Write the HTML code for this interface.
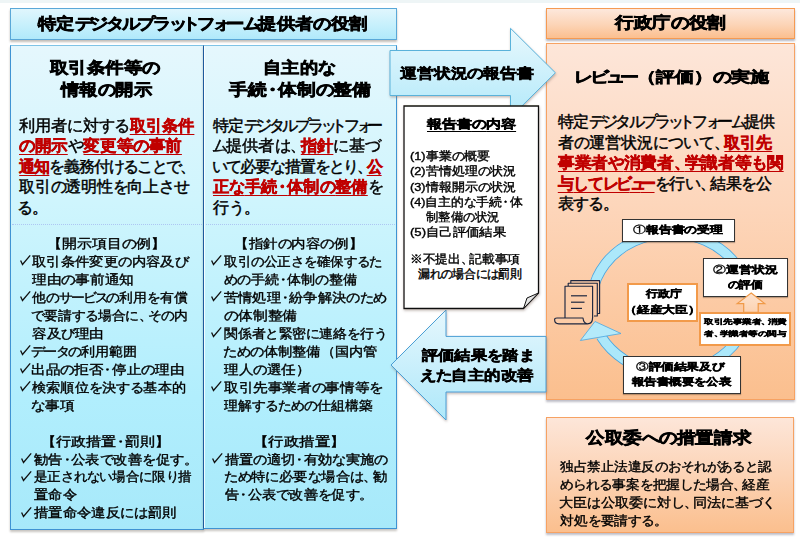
<!DOCTYPE html>
<html lang="ja">
<head>
<meta charset="utf-8">
<title>特定デジタルプラットフォーム提供者の役割</title>
<style>
html,body{margin:0;padding:0;}
body{width:800px;height:543px;position:relative;overflow:hidden;background:#fff;font-family:"Liberation Sans",sans-serif;color:#111;}
.a{position:absolute;box-sizing:border-box;}
.t{position:absolute;white-space:nowrap;color:#000;-webkit-text-stroke:0.25px #000;}
.b{-webkit-text-stroke-color:#000;}
.r{color:#c00000;font-weight:bold;text-decoration:underline;text-decoration-thickness:1.3px;text-underline-offset:3px;-webkit-text-stroke:0.45px #c00000;}
.u{text-decoration:underline;text-decoration-thickness:1.3px;text-underline-offset:3px;}
.ck{position:absolute;overflow:visible;}
.cd{font-weight:normal;-webkit-text-stroke-width:0.3px;}
svg.abs{position:absolute;left:0;top:0;}
</style>
</head>
<body>
<!-- top strip -->
<div class="a" style="left:0;top:0;width:800px;height:2.5px;background:#eef5f6"></div>

<!-- blue header -->
<div class="a" style="left:10px;top:7.8px;width:387px;height:31.8px;border:1px solid #5aa8d8;background:linear-gradient(#e0f6fd,#c6f0fc 55%,#b0e9fb);box-shadow:0 2px 2px rgba(120,110,100,.45)"></div>

<!-- blue panels -->
<div class="a" style="left:10px;top:45px;width:194px;height:485px;border:1px solid #3f93d3;border-top-color:#7ec3e6;background:linear-gradient(#e5f7fd,#cff5fd 32%,#b1eefd 73%,#a7e9fa);box-shadow:0 2px 2px rgba(120,110,100,.4)"></div>
<div class="a" style="left:203px;top:45px;width:194px;height:484px;border:1px solid #3f93d3;border-left-color:#1d5a9c;border-top-color:#7ec3e6;background:linear-gradient(#e5f7fd,#cff5fd 32%,#b1eefd 73%,#a7e9fa);box-shadow:0 2px 2px rgba(120,110,100,.4)"></div>
<div class="a" style="left:204px;top:46px;width:1px;height:482px;background:rgba(255,255,255,.8)"></div>

<div class="a" style="left:12px;top:224px;width:190px;height:1px;border-top:1px dotted rgba(150,160,235,.55)"></div>
<div class="a" style="left:206px;top:224px;width:189px;height:1px;border-top:1px dotted rgba(150,160,235,.55)"></div>
<!-- orange header -->
<div class="a" style="left:545.5px;top:7.7px;width:249px;height:31.6px;border:1px solid #f59a52;background:linear-gradient(#fde8dc,#fcd4b6 55%,#fbbf8f);box-shadow:0 2px 2px rgba(110,110,130,.5)"></div>
<!-- orange panel -->
<div class="a" style="left:545.5px;top:43.2px;width:249px;height:356.9px;border:1px solid #f6a263;background:linear-gradient(#fde6d9,#fdd6bb 45%,#fbbf8e);box-shadow:0 2px 2px rgba(110,110,130,.45)"></div>
<!-- bottom orange box -->
<div class="a" style="left:545.7px;top:417.3px;width:248.6px;height:116px;border:1px solid #f6a263;background:linear-gradient(#fde6d9,#fcd3b5 50%,#fbbf8e);box-shadow:0 2px 2px rgba(110,110,130,.45)"></div>

<svg class="abs" width="800" height="543" viewBox="0 0 800 543">
<defs>
<linearGradient id="gb" x1="0" y1="0" x2="0" y2="1"><stop offset="0" stop-color="#e8f8fd"/><stop offset="1" stop-color="#b2e9fa"/></linearGradient>
<linearGradient id="gb2" x1="0" y1="0" x2="0" y2="1"><stop offset="0" stop-color="#e6f7fd"/><stop offset="1" stop-color="#aee8fa"/></linearGradient>
<linearGradient id="go" x1="0" y1="0" x2="0" y2="1"><stop offset="0" stop-color="#fdeadb"/><stop offset="1" stop-color="#fbcfa8"/></linearGradient>
<filter id="sh" x="-10%" y="-10%" width="130%" height="130%"><feDropShadow dx="0.5" dy="1.5" stdDeviation="0.8" flood-color="#806a60" flood-opacity="0.45"/></filter>
</defs>
<!-- right arrow -->
<polygon points="390,50.5 510.5,50.5 510.5,28.3 555.4,72.8 510.5,117.3 510.5,95.5 390,95.5" fill="url(#gb)" stroke="#5ab2da" stroke-width="1" filter="url(#sh)"/>
<!-- left arrow -->
<polygon points="546,336.4 446,336.4 446,310 391,365 446,420 446,392 546,392" fill="url(#gb2)" stroke="#4a9fd5" stroke-width="1" filter="url(#sh)"/>
<!-- report document -->
<polygon points="404,106 538.5,106 538.5,293 523.5,308.5 404,308.5" fill="#fff" stroke="#111" stroke-width="1.3" filter="url(#sh)"/>
<path d="M523.5,308.5 L527,298 L538.5,293 Z" fill="#e6e6e6" stroke="#111" stroke-width="1"/>

<!-- ring -->
<path d="M601.2,336.5 A78.9,69.65 0 1 0 592.5,292.3" fill="none" stroke="#4aa6e0" stroke-width="10.6"/>
<path d="M601.2,336.5 A78.9,69.65 0 1 0 592.5,292.3" fill="none" stroke="#ace8fa" stroke-width="9"/>
<!-- arrowhead -->
<polygon points="595,321.5 580.4,340.5 621,333.5" fill="#b4eafa" stroke="#4aa6e0" stroke-width="0.8"/>

<!-- document icon -->
<g stroke="#1d2740" stroke-width="1.15" fill="#fccca7" stroke-linejoin="round">
<path d="M570.8,286 V280.6 H599.6 V313.5 H596"/>
<path d="M568.2,286 V283.2 H597.3 V316 H594"/>
<path d="M565,318 V286.2 H592.6 V317.5 Q592.6,323.8 587.5,323.8 H559 Q554.6,323.8 554.6,319.5 Q554.6,318 557,318 H583 Q583.5,323.5 587.5,323.8"/>
</g>
<g stroke="#1d2740" stroke-width="1.2">
<line x1="571" y1="295.8" x2="587" y2="295.8"/>
<line x1="571" y1="302.2" x2="584.5" y2="302.2"/>
<line x1="571" y1="308.4" x2="582" y2="308.4"/>
</g>

</svg>

<!-- circle boxes -->
<div class="a" style="left:622.3px;top:219.3px;width:112.6px;height:23.2px;background:#fff;border:1px solid #333;box-shadow:0 1px 1px rgba(0,0,0,.25)"></div>
<div class="a" style="left:702.7px;top:258.3px;width:85.3px;height:38.7px;background:#fff;border:1px solid #333;box-shadow:0 1px 1px rgba(0,0,0,.25)"></div>
<div class="a" style="left:626.6px;top:282.8px;width:71.7px;height:39.4px;background:#fff;border:2px solid #f29a4a;"></div>
<div class="a" style="left:699.2px;top:312.3px;width:91.8px;height:34px;background:#fff;border:2px solid #f29a4a;"></div>
<div class="a" style="left:623.2px;top:355.6px;width:117.4px;height:38.1px;background:#fff;border:1px solid #333;box-shadow:0 1px 1px rgba(0,0,0,.25)"></div>

<svg class="abs" width="800" height="543" viewBox="0 0 800 543" style="pointer-events:none">
<defs><linearGradient id="go2" x1="0" y1="0" x2="0" y2="1"><stop offset="0" stop-color="#fde3cf"/><stop offset="1" stop-color="#fcd2b2"/></linearGradient></defs>
<polygon points="751.2,293 764.7,303.6 758.2,303.6 758.2,312.3 743.7,312.3 743.7,303.6 737.2,303.6" fill="url(#go2)" stroke="#f09a48" stroke-width="1.2"/>
</svg>
<div class="t b" style="left:38.05px;top:15.50px;font-size:15.5px;line-height:15.5px;letter-spacing:0.000px;font-weight:bold;-webkit-text-stroke-width:0.65px;transform:scaleX(1.1457);transform-origin:0 0;">特定<span style="letter-spacing:-2.325px">デジタルプラ</span><span style="letter-spacing:-4.650px">ッ</span><span style="letter-spacing:-2.325px">トフ</span><span style="letter-spacing:-4.650px">ォ</span><span style="letter-spacing:-1.550px">ー</span><span style="letter-spacing:-2.325px">ム</span>提供者<span style="letter-spacing:-0.775px">の</span>役割</div>
<div class="t b" style="left:614.77px;top:15.30px;font-size:15.5px;line-height:15.5px;letter-spacing:0.000px;font-weight:bold;-webkit-text-stroke-width:0.65px;transform:scaleX(1.1667);transform-origin:0 0;">行政庁<span style="letter-spacing:-0.775px">の</span>役割</div>
<div class="t b" style="left:50.30px;top:59.60px;font-size:15.5px;line-height:15.5px;letter-spacing:0.000px;font-weight:bold;-webkit-text-stroke-width:0.65px;transform:scaleX(1.1510);transform-origin:0 0;">取引条件等<span style="letter-spacing:-0.775px">の</span></div>
<div class="t b" style="left:61.35px;top:81.80px;font-size:15.5px;line-height:15.5px;letter-spacing:0.000px;font-weight:bold;-webkit-text-stroke-width:0.65px;transform:scaleX(1.1475);transform-origin:0 0;">情報<span style="letter-spacing:-0.775px">の</span>開示</div>
<div class="t" style="left:19.20px;top:117.60px;font-size:16px;line-height:16px;letter-spacing:0.000px;-webkit-text-stroke-width:0.45px;transform:scaleX(1.0103);transform-origin:0 0;">利用者<span style="letter-spacing:-0.800px">に</span>対<span style="letter-spacing:-0.800px">する</span><span class="r">取引条件</span></div>
<div class="t" style="left:19.20px;top:138.10px;font-size:16px;line-height:16px;letter-spacing:0.000px;-webkit-text-stroke-width:0.45px;transform:scaleX(1.0335);transform-origin:0 0;"><span class="r"><span style="letter-spacing:-0.800px">の</span>開示</span><span style="letter-spacing:-0.800px">や</span><span class="r">変更等<span style="letter-spacing:-0.800px">の</span>事前</span></div>
<div class="t" style="left:19.20px;top:158.60px;font-size:16px;line-height:16px;letter-spacing:-0.927px;-webkit-text-stroke-width:0.45px;"><span class="r">通知</span><span style="letter-spacing:-1.727px">を</span>義務付<span style="letter-spacing:-1.727px">けることで</span><span style="letter-spacing:-6.527px">、</span></div>
<div class="t" style="left:19.20px;top:179.10px;font-size:16px;line-height:16px;letter-spacing:-0.320px;-webkit-text-stroke-width:0.45px;">取引<span style="letter-spacing:-1.120px">の</span>透明性<span style="letter-spacing:-1.120px">を</span>向上<span style="letter-spacing:-1.120px">させ</span></div>
<div class="t" style="left:17.20px;top:199.60px;font-size:16px;line-height:16px;letter-spacing:0.000px;-webkit-text-stroke-width:0.45px;"><span style="letter-spacing:-0.800px">る</span><span style="letter-spacing:-5.600px">。</span></div>
<div class="t" style="left:46.80px;top:237.26px;font-size:13.2px;line-height:13.2px;letter-spacing:0.000px;-webkit-text-stroke-width:0.38px;transform:scaleX(1.1494);transform-origin:0 0;">【開示項目<span style="letter-spacing:-0.660px">の</span>例】</div>
<div class="t" style="left:32.10px;top:255.20px;font-size:13.2px;line-height:13.2px;letter-spacing:0.000px;-webkit-text-stroke-width:0.38px;transform:scaleX(1.1042);transform-origin:0 0;">取引条件変更<span style="letter-spacing:-0.660px">の</span>内容及<span style="letter-spacing:-0.660px">び</span></div>
<svg class="ck" style="left:19.50px;top:255.40px" width="12" height="12" viewBox="0 0 12 12"><path d="M0.6 5.4 L2.5 9.5 L10.2 0.3" fill="none" stroke="#111" stroke-width="1.3"/></svg>
<div class="t" style="left:32.10px;top:273.14px;font-size:13.2px;line-height:13.2px;letter-spacing:0.000px;-webkit-text-stroke-width:0.38px;transform:scaleX(1.1281);transform-origin:0 0;">理由<span style="letter-spacing:-0.660px">の</span>事前通知</div>
<div class="t" style="left:32.10px;top:291.08px;font-size:13.2px;line-height:13.2px;letter-spacing:0.000px;-webkit-text-stroke-width:0.38px;transform:scaleX(1.0605);transform-origin:0 0;">他<span style="letter-spacing:-0.660px">の</span><span style="letter-spacing:-1.980px">サ</span><span style="letter-spacing:-1.320px">ー</span><span style="letter-spacing:-1.980px">ビス</span><span style="letter-spacing:-0.660px">の</span>利用<span style="letter-spacing:-0.660px">を</span>有償</div>
<svg class="ck" style="left:19.50px;top:291.28px" width="12" height="12" viewBox="0 0 12 12"><path d="M0.6 5.4 L2.5 9.5 L10.2 0.3" fill="none" stroke="#111" stroke-width="1.3"/></svg>
<div class="t" style="left:31.04px;top:309.02px;font-size:13.2px;line-height:13.2px;letter-spacing:0.000px;-webkit-text-stroke-width:0.38px;transform:scaleX(1.0614);transform-origin:0 0;"><span style="letter-spacing:-0.660px">で</span>要請<span style="letter-spacing:-0.660px">する</span>場合<span style="letter-spacing:-0.660px">に</span><span style="letter-spacing:-4.620px">、</span><span style="letter-spacing:-0.660px">その</span>内</div>
<div class="t" style="left:32.10px;top:326.96px;font-size:13.2px;line-height:13.2px;letter-spacing:0.000px;-webkit-text-stroke-width:0.38px;transform:scaleX(1.1175);transform-origin:0 0;">容及<span style="letter-spacing:-0.660px">び</span>理由</div>
<div class="t" style="left:31.02px;top:344.90px;font-size:13.2px;line-height:13.2px;letter-spacing:0.000px;-webkit-text-stroke-width:0.38px;transform:scaleX(1.0849);transform-origin:0 0;"><span style="letter-spacing:-1.980px">デ</span><span style="letter-spacing:-1.320px">ー</span><span style="letter-spacing:-1.980px">タ</span><span style="letter-spacing:-0.660px">の</span>利用範囲</div>
<svg class="ck" style="left:19.50px;top:345.10px" width="12" height="12" viewBox="0 0 12 12"><path d="M0.6 5.4 L2.5 9.5 L10.2 0.3" fill="none" stroke="#111" stroke-width="1.3"/></svg>
<div class="t" style="left:30.98px;top:362.84px;font-size:13.2px;line-height:13.2px;letter-spacing:0.000px;-webkit-text-stroke-width:0.38px;transform:scaleX(1.1224);transform-origin:0 0;">出品<span style="letter-spacing:-0.660px">の</span>拒否<span style="margin-left:-2.64px;letter-spacing:-2.640px">・</span>停止<span style="letter-spacing:-0.660px">の</span>理由</div>
<svg class="ck" style="left:19.50px;top:363.04px" width="12" height="12" viewBox="0 0 12 12"><path d="M0.6 5.4 L2.5 9.5 L10.2 0.3" fill="none" stroke="#111" stroke-width="1.3"/></svg>
<div class="t" style="left:32.10px;top:380.78px;font-size:13.2px;line-height:13.2px;letter-spacing:0.000px;-webkit-text-stroke-width:0.38px;transform:scaleX(1.0921);transform-origin:0 0;">検索順位<span style="letter-spacing:-0.660px">を</span>決<span style="letter-spacing:-0.660px">する</span>基本的</div>
<svg class="ck" style="left:19.50px;top:380.98px" width="12" height="12" viewBox="0 0 12 12"><path d="M0.6 5.4 L2.5 9.5 L10.2 0.3" fill="none" stroke="#111" stroke-width="1.3"/></svg>
<div class="t" style="left:30.97px;top:398.72px;font-size:13.2px;line-height:13.2px;letter-spacing:0.000px;-webkit-text-stroke-width:0.38px;transform:scaleX(1.1257);transform-origin:0 0;"><span style="letter-spacing:-0.660px">な</span>事項</div>
<div class="t" style="left:40.73px;top:434.60px;font-size:13.2px;line-height:13.2px;letter-spacing:0.000px;-webkit-text-stroke-width:0.38px;transform:scaleX(1.1589);transform-origin:0 0;">【行政措置<span style="margin-left:-2.64px;letter-spacing:-2.640px">・</span>罰則】</div>
<div class="t" style="left:33.50px;top:452.54px;font-size:13.2px;line-height:13.2px;letter-spacing:0.000px;-webkit-text-stroke-width:0.38px;transform:scaleX(1.1011);transform-origin:0 0;">勧告<span style="margin-left:-2.64px;letter-spacing:-2.640px">・</span>公表<span style="letter-spacing:-0.660px">で</span>改善<span style="letter-spacing:-0.660px">を</span>促<span style="letter-spacing:-0.660px">す</span><span style="letter-spacing:-4.620px">。</span></div>
<svg class="ck" style="left:20.90px;top:452.74px" width="12" height="12" viewBox="0 0 12 12"><path d="M0.6 5.4 L2.5 9.5 L10.2 0.3" fill="none" stroke="#111" stroke-width="1.3"/></svg>
<div class="t" style="left:33.50px;top:470.48px;font-size:13.2px;line-height:13.2px;letter-spacing:0.000px;-webkit-text-stroke-width:0.38px;transform:scaleX(1.0378);transform-origin:0 0;">是正<span style="letter-spacing:-0.660px">されない</span>場合<span style="letter-spacing:-0.660px">に</span>限<span style="letter-spacing:-0.660px">り</span>措</div>
<svg class="ck" style="left:20.90px;top:470.68px" width="12" height="12" viewBox="0 0 12 12"><path d="M0.6 5.4 L2.5 9.5 L10.2 0.3" fill="none" stroke="#111" stroke-width="1.3"/></svg>
<div class="t" style="left:33.50px;top:488.42px;font-size:13.2px;line-height:13.2px;letter-spacing:0.000px;-webkit-text-stroke-width:0.38px;transform:scaleX(1.0962);transform-origin:0 0;">置命令</div>
<div class="t" style="left:33.50px;top:506.36px;font-size:13.2px;line-height:13.2px;letter-spacing:0.000px;-webkit-text-stroke-width:0.38px;transform:scaleX(1.1055);transform-origin:0 0;">措置命令違反<span style="letter-spacing:-0.660px">には</span>罰則</div>
<svg class="ck" style="left:20.90px;top:506.56px" width="12" height="12" viewBox="0 0 12 12"><path d="M0.6 5.4 L2.5 9.5 L10.2 0.3" fill="none" stroke="#111" stroke-width="1.3"/></svg>
<div class="t b" style="left:262.96px;top:59.60px;font-size:15.5px;line-height:15.5px;letter-spacing:0.000px;font-weight:bold;-webkit-text-stroke-width:0.65px;transform:scaleX(1.1413);transform-origin:0 0;">自主的<span style="letter-spacing:-0.775px">な</span></div>
<div class="t b" style="left:229.10px;top:82.20px;font-size:15.5px;line-height:15.5px;letter-spacing:0.000px;font-weight:bold;-webkit-text-stroke-width:0.65px;transform:scaleX(1.1727);transform-origin:0 0;">手続<span style="margin-left:-3.10px;letter-spacing:-3.100px">・</span>体制<span style="letter-spacing:-0.775px">の</span>整備</div>
<div class="t" style="left:213.00px;top:117.60px;font-size:16px;line-height:16px;letter-spacing:-0.750px;-webkit-text-stroke-width:0.45px;">特定<span style="letter-spacing:-3.150px">デジタルプラ</span><span style="letter-spacing:-5.550px">ッ</span><span style="letter-spacing:-3.150px">トフ</span><span style="letter-spacing:-5.550px">ォ</span><span style="letter-spacing:-2.350px">ー</span></div>
<div class="t" style="left:211.98px;top:138.10px;font-size:16px;line-height:16px;letter-spacing:0.000px;-webkit-text-stroke-width:0.45px;transform:scaleX(1.0181);transform-origin:0 0;"><span style="letter-spacing:-2.400px">ム</span>提供者<span style="letter-spacing:-0.800px">は</span><span style="letter-spacing:-5.600px">、</span><span class="r">指針</span><span style="letter-spacing:-0.800px">に</span>基<span style="letter-spacing:-0.800px">づ</span></div>
<div class="t" style="left:212.00px;top:158.60px;font-size:16px;line-height:16px;letter-spacing:-1.000px;-webkit-text-stroke-width:0.45px;"><span style="letter-spacing:-1.800px">いて</span>必要<span style="letter-spacing:-1.800px">な</span>措置<span style="letter-spacing:-1.800px">をとり</span><span style="letter-spacing:-6.600px">、</span><span class="r">公</span></div>
<div class="t" style="left:213.00px;top:179.10px;font-size:16px;line-height:16px;letter-spacing:0.000px;-webkit-text-stroke-width:0.45px;transform:scaleX(1.0180);transform-origin:0 0;"><span class="r">正<span style="letter-spacing:-0.800px">な</span>手続<span style="margin-left:-3.20px;letter-spacing:-3.200px">・</span>体制<span style="letter-spacing:-0.800px">の</span>整備</span><span style="letter-spacing:-0.800px">を</span></div>
<div class="t" style="left:213.00px;top:199.60px;font-size:16px;line-height:16px;letter-spacing:0.000px;-webkit-text-stroke-width:0.45px;">行<span style="letter-spacing:-0.800px">う</span><span style="letter-spacing:-5.600px">。</span></div>
<div class="t" style="left:234.07px;top:237.26px;font-size:13.2px;line-height:13.2px;letter-spacing:0.000px;-webkit-text-stroke-width:0.38px;transform:scaleX(1.1160);transform-origin:0 0;">【指針<span style="letter-spacing:-0.660px">の</span>内容<span style="letter-spacing:-0.660px">の</span>例】</div>
<div class="t" style="left:223.80px;top:255.20px;font-size:13.2px;line-height:13.2px;letter-spacing:0.000px;-webkit-text-stroke-width:0.38px;transform:scaleX(1.0408);transform-origin:0 0;">取引<span style="letter-spacing:-0.660px">の</span>公正<span style="letter-spacing:-0.660px">さを</span>確保<span style="letter-spacing:-0.660px">するた</span></div>
<svg class="ck" style="left:211.20px;top:255.40px" width="12" height="12" viewBox="0 0 12 12"><path d="M0.6 5.4 L2.5 9.5 L10.2 0.3" fill="none" stroke="#111" stroke-width="1.3"/></svg>
<div class="t" style="left:223.80px;top:273.14px;font-size:13.2px;line-height:13.2px;letter-spacing:0.000px;-webkit-text-stroke-width:0.38px;transform:scaleX(1.0829);transform-origin:0 0;"><span style="letter-spacing:-0.660px">めの</span>手続<span style="margin-left:-2.64px;letter-spacing:-2.640px">・</span>体制<span style="letter-spacing:-0.660px">の</span>整備</div>
<div class="t" style="left:223.80px;top:291.08px;font-size:13.2px;line-height:13.2px;letter-spacing:0.000px;-webkit-text-stroke-width:0.38px;transform:scaleX(1.0926);transform-origin:0 0;">苦情処理<span style="margin-left:-2.64px;letter-spacing:-2.640px">・</span>紛争解決<span style="letter-spacing:-0.660px">のため</span></div>
<svg class="ck" style="left:211.20px;top:291.28px" width="12" height="12" viewBox="0 0 12 12"><path d="M0.6 5.4 L2.5 9.5 L10.2 0.3" fill="none" stroke="#111" stroke-width="1.3"/></svg>
<div class="t" style="left:223.80px;top:309.02px;font-size:13.2px;line-height:13.2px;letter-spacing:0.000px;-webkit-text-stroke-width:0.38px;transform:scaleX(1.1359);transform-origin:0 0;"><span style="letter-spacing:-0.660px">の</span>体制整備</div>
<div class="t" style="left:223.80px;top:326.96px;font-size:13.2px;line-height:13.2px;letter-spacing:0.000px;-webkit-text-stroke-width:0.38px;transform:scaleX(1.0629);transform-origin:0 0;">関係者<span style="letter-spacing:-0.660px">と</span>緊密<span style="letter-spacing:-0.660px">に</span>連絡<span style="letter-spacing:-0.660px">を</span>行<span style="letter-spacing:-0.660px">う</span></div>
<svg class="ck" style="left:211.20px;top:327.16px" width="12" height="12" viewBox="0 0 12 12"><path d="M0.6 5.4 L2.5 9.5 L10.2 0.3" fill="none" stroke="#111" stroke-width="1.3"/></svg>
<div class="t" style="left:222.70px;top:344.90px;font-size:13.2px;line-height:13.2px;letter-spacing:0.000px;-webkit-text-stroke-width:0.38px;transform:scaleX(1.0957);transform-origin:0 0;"><span style="letter-spacing:-0.660px">ための</span>体制整備（国内管</div>
<div class="t" style="left:223.80px;top:362.84px;font-size:13.2px;line-height:13.2px;letter-spacing:0.000px;-webkit-text-stroke-width:0.38px;transform:scaleX(1.1188);transform-origin:0 0;">理人<span style="letter-spacing:-0.660px">の</span>選任）</div>
<div class="t" style="left:223.80px;top:380.78px;font-size:13.2px;line-height:13.2px;letter-spacing:0.000px;-webkit-text-stroke-width:0.38px;transform:scaleX(1.1220);transform-origin:0 0;">取引先事業者<span style="letter-spacing:-0.660px">の</span>事情等<span style="letter-spacing:-0.660px">を</span></div>
<svg class="ck" style="left:211.20px;top:380.98px" width="12" height="12" viewBox="0 0 12 12"><path d="M0.6 5.4 L2.5 9.5 L10.2 0.3" fill="none" stroke="#111" stroke-width="1.3"/></svg>
<div class="t" style="left:223.80px;top:398.72px;font-size:13.2px;line-height:13.2px;letter-spacing:0.000px;-webkit-text-stroke-width:0.38px;transform:scaleX(1.0621);transform-origin:0 0;">理解<span style="letter-spacing:-0.660px">するための</span>仕組構築</div>
<div class="t" style="left:252.50px;top:434.60px;font-size:13.2px;line-height:13.2px;letter-spacing:0.000px;-webkit-text-stroke-width:0.38px;transform:scaleX(1.1871);transform-origin:0 0;">【行政措置】</div>
<div class="t" style="left:225.00px;top:452.54px;font-size:13.2px;line-height:13.2px;letter-spacing:0.000px;-webkit-text-stroke-width:0.38px;transform:scaleX(1.0933);transform-origin:0 0;">措置<span style="letter-spacing:-0.660px">の</span>適切<span style="margin-left:-2.64px;letter-spacing:-2.640px">・</span>有効<span style="letter-spacing:-0.660px">な</span>実施<span style="letter-spacing:-0.660px">の</span></div>
<svg class="ck" style="left:212.40px;top:452.74px" width="12" height="12" viewBox="0 0 12 12"><path d="M0.6 5.4 L2.5 9.5 L10.2 0.3" fill="none" stroke="#111" stroke-width="1.3"/></svg>
<div class="t" style="left:223.90px;top:470.48px;font-size:13.2px;line-height:13.2px;letter-spacing:0.000px;-webkit-text-stroke-width:0.38px;transform:scaleX(1.1000);transform-origin:0 0;"><span style="letter-spacing:-0.660px">ため</span>特<span style="letter-spacing:-0.660px">に</span>必要<span style="letter-spacing:-0.660px">な</span>場合<span style="letter-spacing:-0.660px">は</span><span style="letter-spacing:-4.620px">、</span>勧</div>
<div class="t" style="left:225.00px;top:488.42px;font-size:13.2px;line-height:13.2px;letter-spacing:0.000px;-webkit-text-stroke-width:0.38px;transform:scaleX(1.0914);transform-origin:0 0;">告<span style="margin-left:-2.64px;letter-spacing:-2.640px">・</span>公表<span style="letter-spacing:-0.660px">で</span>改善<span style="letter-spacing:-0.660px">を</span>促<span style="letter-spacing:-0.660px">す</span><span style="letter-spacing:-4.620px">。</span></div>
<div class="t b" style="left:399.80px;top:67.00px;font-size:13.8px;line-height:13.8px;letter-spacing:0.000px;font-weight:bold;-webkit-text-stroke-width:0.5px;transform:scaleX(1.2036);transform-origin:0 0;">運営状況<span style="letter-spacing:-0.690px">の</span>報告書</div>
<div class="t b" style="left:422.30px;top:349.30px;font-size:13.8px;line-height:13.8px;letter-spacing:0.000px;font-weight:bold;-webkit-text-stroke-width:0.5px;transform:scaleX(1.1600);transform-origin:0 0;">評価結果<span style="letter-spacing:-0.690px">を</span>踏<span style="letter-spacing:-0.690px">ま</span></div>
<div class="t b" style="left:420.22px;top:369.30px;font-size:13.8px;line-height:13.8px;letter-spacing:0.000px;font-weight:bold;-webkit-text-stroke-width:0.5px;transform:scaleX(1.1760);transform-origin:0 0;"><span style="letter-spacing:-0.690px">えた</span>自主的改善</div>
<div class="t u b" style="left:426.50px;top:118.30px;font-size:12.2px;line-height:12.2px;letter-spacing:0.000px;font-weight:bold;-webkit-text-stroke-width:0.45px;transform:scaleX(1.2479);transform-origin:0 0;">報告書<span style="letter-spacing:-0.610px">の</span>内容</div>
<div class="t" style="left:410.02px;top:151.30px;font-size:11.8px;line-height:11.8px;letter-spacing:0.000px;-webkit-text-stroke-width:0.38px;transform:scaleX(1.0836);transform-origin:0 0;">(1)事業<span style="letter-spacing:-0.590px">の</span>概要</div>
<div class="t" style="left:410.02px;top:166.46px;font-size:11.8px;line-height:11.8px;letter-spacing:0.000px;-webkit-text-stroke-width:0.38px;transform:scaleX(1.0814);transform-origin:0 0;">(2)苦情処理<span style="letter-spacing:-0.590px">の</span>状況</div>
<div class="t" style="left:410.02px;top:181.62px;font-size:11.8px;line-height:11.8px;letter-spacing:0.000px;-webkit-text-stroke-width:0.38px;transform:scaleX(1.0814);transform-origin:0 0;">(3)情報開示<span style="letter-spacing:-0.590px">の</span>状況</div>
<div class="t" style="left:410.03px;top:196.78px;font-size:11.8px;line-height:11.8px;letter-spacing:0.000px;-webkit-text-stroke-width:0.38px;transform:scaleX(1.0712);transform-origin:0 0;">(4)自主的<span style="letter-spacing:-0.590px">な</span>手続<span style="margin-left:-2.36px;letter-spacing:-2.360px">・</span>体</div>
<div class="t" style="left:426.00px;top:211.94px;font-size:11.8px;line-height:11.8px;letter-spacing:0.000px;-webkit-text-stroke-width:0.38px;transform:scaleX(1.0268);transform-origin:0 0;">制整備<span style="letter-spacing:-0.590px">の</span>状況</div>
<div class="t" style="left:409.99px;top:227.10px;font-size:11.8px;line-height:11.8px;letter-spacing:0.000px;-webkit-text-stroke-width:0.38px;transform:scaleX(1.1106);transform-origin:0 0;">(5)自己評価結果</div>
<div class="t" style="left:409.94px;top:253.60px;font-size:11.8px;line-height:11.8px;letter-spacing:0.000px;-webkit-text-stroke-width:0.38px;transform:scaleX(1.0612);transform-origin:0 0;">※不提出<span style="letter-spacing:-4.130px">、</span>記載事項</div>
<div class="t" style="left:418.00px;top:268.50px;font-size:11.8px;line-height:11.8px;letter-spacing:-0.188px;-webkit-text-stroke-width:0.38px;">漏<span style="letter-spacing:-0.778px">れの</span>場合<span style="letter-spacing:-0.778px">には</span>罰則</div>
<div class="t b" style="left:574.07px;top:68.50px;font-size:15px;line-height:15px;letter-spacing:0.000px;font-weight:bold;-webkit-text-stroke-width:0.65px;transform:scaleX(1.2658);transform-origin:0 0;"><span style="letter-spacing:-2.250px">レビ</span><span style="letter-spacing:-4.500px">ュ</span><span style="letter-spacing:-1.500px">ー</span>（評価）<span style="letter-spacing:-0.750px">の</span>実施</div>
<div class="t" style="left:557.80px;top:114.10px;font-size:15.5px;line-height:15.5px;letter-spacing:-0.453px;-webkit-text-stroke-width:0.45px;">特定<span style="letter-spacing:-2.778px">デジタルプラ</span><span style="letter-spacing:-5.103px">ッ</span><span style="letter-spacing:-2.778px">トフ</span><span style="letter-spacing:-5.103px">ォ</span><span style="letter-spacing:-2.003px">ー</span><span style="letter-spacing:-2.778px">ム</span>提供</div>
<div class="t" style="left:557.80px;top:134.60px;font-size:15.5px;line-height:15.5px;letter-spacing:-0.015px;-webkit-text-stroke-width:0.45px;">者<span style="letter-spacing:-0.790px">の</span>運営状況<span style="letter-spacing:-0.790px">について</span><span style="letter-spacing:-5.440px">、</span><span class="r">取引先</span></div>
<div class="t" style="left:557.80px;top:155.10px;font-size:15.5px;line-height:15.5px;letter-spacing:0.000px;-webkit-text-stroke-width:0.45px;transform:scaleX(1.0396);transform-origin:0 0;"><span class="r">事業者<span style="letter-spacing:-0.775px">や</span>消費者<span style="letter-spacing:-5.425px">、</span>学識者等<span style="letter-spacing:-0.775px">も</span>関</span></div>
<div class="t" style="left:557.80px;top:175.60px;font-size:15.5px;line-height:15.5px;letter-spacing:-0.414px;-webkit-text-stroke-width:0.45px;"><span class="r">与<span style="letter-spacing:-1.189px">して</span><span style="letter-spacing:-2.739px">レビ</span><span style="letter-spacing:-5.064px">ュ</span><span style="letter-spacing:-1.964px">ー</span></span><span style="letter-spacing:-1.189px">を</span>行<span style="letter-spacing:-1.189px">い</span><span style="letter-spacing:-5.839px">、</span>結果<span style="letter-spacing:-1.189px">を</span>公</div>
<div class="t" style="left:557.80px;top:196.10px;font-size:15.5px;line-height:15.5px;letter-spacing:-0.433px;-webkit-text-stroke-width:0.45px;">表<span style="letter-spacing:-1.208px">する</span><span style="letter-spacing:-5.858px">。</span></div>
<div class="t b" style="left:633.41px;top:225.30px;font-size:10.2px;line-height:10.2px;letter-spacing:0.000px;font-weight:bold;-webkit-text-stroke-width:0.45px;transform:scaleX(1.2868);transform-origin:0 0;"><span class="cd">①</span>報告書<span style="letter-spacing:-0.510px">の</span>受理</div>
<div class="t b" style="left:712.71px;top:264.50px;font-size:10.2px;line-height:10.2px;letter-spacing:0.000px;font-weight:bold;-webkit-text-stroke-width:0.45px;transform:scaleX(1.2917);transform-origin:0 0;"><span class="cd">②</span>運営状況</div>
<div class="t b" style="left:728.00px;top:279.50px;font-size:10.2px;line-height:10.2px;letter-spacing:0.000px;font-weight:bold;-webkit-text-stroke-width:0.45px;transform:scaleX(1.1833);transform-origin:0 0;"><span style="letter-spacing:-0.510px">の</span>評価</div>
<div class="t b" style="left:646.40px;top:289.30px;font-size:10.2px;line-height:10.2px;letter-spacing:0.000px;font-weight:bold;-webkit-text-stroke-width:0.45px;transform:scaleX(1.1968);transform-origin:0 0;">行政庁</div>
<div class="t b" style="left:624.34px;top:304.80px;font-size:10.2px;line-height:10.2px;letter-spacing:0.000px;font-weight:bold;-webkit-text-stroke-width:0.45px;transform:scaleX(1.2771);transform-origin:0 0;">（経産大臣）</div>
<div class="t b" style="left:703.90px;top:318.10px;font-size:7.3px;line-height:7.3px;letter-spacing:0.000px;font-weight:bold;-webkit-text-stroke-width:0.35px;transform:scaleX(1.3683);transform-origin:0 0;">取引先事業者<span style="letter-spacing:-2.555px">、</span>消費</div>
<div class="t b" style="left:703.90px;top:329.90px;font-size:7.3px;line-height:7.3px;letter-spacing:0.000px;font-weight:bold;-webkit-text-stroke-width:0.35px;transform:scaleX(1.3683);transform-origin:0 0;">者<span style="letter-spacing:-2.555px">、</span>学識者等<span style="letter-spacing:-0.365px">の</span>関与</div>
<div class="t b" style="left:635.74px;top:362.00px;font-size:10.2px;line-height:10.2px;letter-spacing:0.000px;font-weight:bold;-webkit-text-stroke-width:0.45px;transform:scaleX(1.2609);transform-origin:0 0;"><span class="cd">③</span>評価結果及<span style="letter-spacing:-0.510px">び</span></div>
<div class="t b" style="left:632.20px;top:376.70px;font-size:10.2px;line-height:10.2px;letter-spacing:0.000px;font-weight:bold;-webkit-text-stroke-width:0.45px;transform:scaleX(1.2487);transform-origin:0 0;">報告書概要<span style="letter-spacing:-0.510px">を</span>公表</div>
<div class="t b" style="left:586.46px;top:430.30px;font-size:15.5px;line-height:15.5px;letter-spacing:0.000px;font-weight:bold;-webkit-text-stroke-width:0.65px;transform:scaleX(1.1587);transform-origin:0 0;">公取委<span style="letter-spacing:-0.775px">への</span>措置請求</div>
<div class="t" style="left:560.30px;top:459.80px;font-size:13.3px;line-height:13.3px;letter-spacing:0.000px;-webkit-text-stroke-width:0.38px;transform:scaleX(1.0443);transform-origin:0 0;">独占禁止法違反<span style="letter-spacing:-0.665px">のおそれがあると</span>認</div>
<div class="t" style="left:560.30px;top:477.80px;font-size:13.3px;line-height:13.3px;letter-spacing:0.000px;-webkit-text-stroke-width:0.38px;transform:scaleX(1.0553);transform-origin:0 0;"><span style="letter-spacing:-0.665px">められる</span>事案<span style="letter-spacing:-0.665px">を</span>把握<span style="letter-spacing:-0.665px">した</span>場合<span style="letter-spacing:-4.655px">、</span>経産</div>
<div class="t" style="left:559.21px;top:495.80px;font-size:13.3px;line-height:13.3px;letter-spacing:0.000px;-webkit-text-stroke-width:0.38px;transform:scaleX(1.0872);transform-origin:0 0;">大臣<span style="letter-spacing:-0.665px">は</span>公取委<span style="letter-spacing:-0.665px">に</span>対<span style="letter-spacing:-0.665px">し</span><span style="letter-spacing:-4.655px">、</span>同法<span style="letter-spacing:-0.665px">に</span>基<span style="letter-spacing:-0.665px">づく</span></div>
<div class="t" style="left:560.30px;top:513.80px;font-size:13.3px;line-height:13.3px;letter-spacing:0.000px;-webkit-text-stroke-width:0.38px;transform:scaleX(1.0606);transform-origin:0 0;">対処<span style="letter-spacing:-0.665px">を</span>要請<span style="letter-spacing:-0.665px">する</span><span style="letter-spacing:-4.655px">。</span></div>
</body>
</html>
